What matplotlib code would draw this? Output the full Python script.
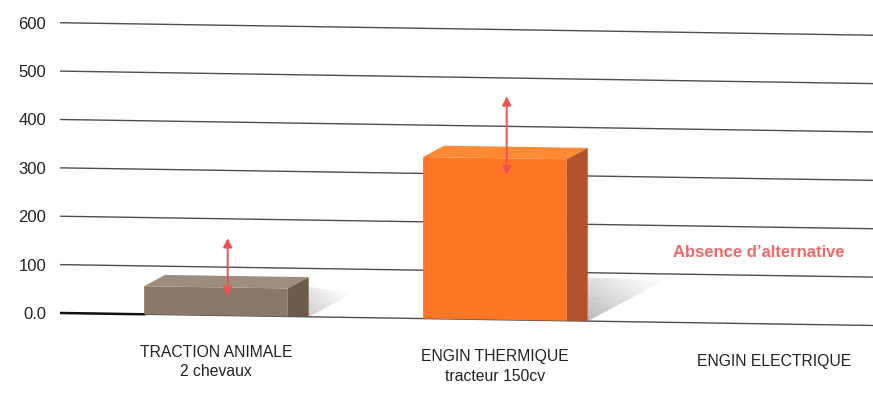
import matplotlib as mpl
mpl.use('Agg')
import matplotlib.pyplot as plt
import numpy as np
from matplotlib.patches import Polygon
from matplotlib.collections import PolyCollection
from matplotlib.transforms import Affine2D

plt.rcParams['font.family'] = ['Liberation Sans', 'DejaVu Sans']

# values
categories   = ['TRACTION ANIMALE', 'ENGIN THERMIQUE', 'ENGIN ELECTRIQUE']
subtitles    = ['2 chevaux', 'tracteur 150cv', '']
bar_values   = [58, 334]          # no bar for the electric engine
arrow_low    = [40, 299]
arrow_high   = [160, 462]
yticks       = [0, 100, 200, 300, 400, 500, 600]
ytick_labels = ['0.0', '100', '200', '300', '400', '500', '600']
note         = 'Absence d\u2019alternative'

# colours: front / top / side of each bar
front_cols = ['#8b7967', '#ff7624']
top_cols   = ['#9e8d7b', '#ff8a36']
side_cols  = ['#6c5c4c', '#b2532c']

fig = plt.figure(figsize=(8.73, 3.93), dpi=100)
ax  = fig.add_axes([60/873, 0, 813/873, 1])
x0, x1 = -0.559, 2.355
ax.set_xlim(x0, x1)
ax.set_ylim(-165.4, 647)

# the scanned page is slightly tilted: shear everything drawn in data space
k    = -8.86
skew = (Affine2D().translate(-x0, 0)
        + Affine2D(np.array([[1, 0, 0], [k, 1, 0], [0, 0, 1.]]))
        + Affine2D().translate(x0, 0))
tr   = skew + ax.transData

# grid lines
for v in yticks:
    ax.plot([x0, x1], [v, v], color='#4e4e4e', lw=1.0, transform=tr, zorder=1)

w, dx, dy = 0.515, 0.075, 24
xpos = np.arange(len(bar_values))
ax.plot([x0, xpos[0] - w/2], [0, 0], color='#111111', lw=1.8, transform=tr, zorder=2)

# soft wedge shadows to the right of the bars
for x, h in zip(xpos, bar_values):
    xs = x + w/2 + dx
    if h > 200:
        L, top0, top1, alpha0 = 0.28, 90, 88, 0.55
    else:
        L, top0, top1, alpha0 = 0.16, 62, 50, 0.40
    n, m = 30, 8
    cells, alphas = [], []
    for i in range(n):
        t0, t1 = i/n, (i+1)/n
        b0, b1 = top1*t0, top1*t1
        u0, u1 = top0 + (top1 - top0)*t0, top0 + (top1 - top0)*t1
        for j in range(m):
            s0, s1 = j/m, (j+1)/m
            cells.append([(xs + L*t0, b0 + (u0 - b0)*s0), (xs + L*t1, b1 + (u1 - b1)*s0),
                          (xs + L*t1, b1 + (u1 - b1)*s1), (xs + L*t0, b0 + (u0 - b0)*s1)])
            alphas.append(alpha0*(1 - t0)**1.3*(1 - 0.6*s0))
    cols = [(0.5, 0.5, 0.5, a) for a in alphas]
    ax.add_collection(PolyCollection(cells, facecolors=cols, edgecolors='none',
                                     transform=tr, zorder=2))

# bars with fake depth
ax.bar(xpos, bar_values, width=w, color=front_cols, transform=tr, zorder=3)
for x, h, ct, cs in zip(xpos, bar_values, top_cols, side_cols):
    top  = [(x - w/2, h), (x - w/2 + dx, h + dy), (x + w/2 + dx, h + dy), (x + w/2, h)]
    side = [(x + w/2, 0), (x + w/2, h), (x + w/2 + dx, h + dy), (x + w/2 + dx, 0)]
    ax.add_patch(Polygon(top, closed=True, facecolor=ct, edgecolor='none', transform=tr, zorder=3))
    ax.add_patch(Polygon(side, closed=True, facecolor=cs, edgecolor='none', transform=tr, zorder=3))

# range arrows
for x, lo, hi in zip(xpos, arrow_low, arrow_high):
    ax.annotate('', xy=(x + 0.042, hi), xytext=(x + 0.042, lo), xycoords=tr, textcoords=tr,
                arrowprops=dict(arrowstyle='<|-|>', color='#ee5252', lw=1.4,
                                mutation_scale=13, shrinkA=0, shrinkB=0), zorder=4)

# category labels
for i, (cat, sub) in enumerate(zip(categories, subtitles)):
    ax.text(i, -77, cat, transform=tr, ha='center', va='center', fontsize=11.3, color='#222222')
    if sub:
        ax.text(i, -117, sub, transform=tr, ha='center', va='center', fontsize=11.3, color='#222222')

ax.text(1.946, 148, note, transform=tr, ha='center', va='center', fontsize=12,
        fontweight='bold', color='#f26868')

ax.set_yticks(yticks, ytick_labels)
ax.tick_params(axis='y', length=0, pad=10, labelsize=12, labelcolor='#222222')
ax.set_xticks([])
for s in ax.spines.values():
    s.set_visible(False)

fig.savefig('out.png', dpi=100)
